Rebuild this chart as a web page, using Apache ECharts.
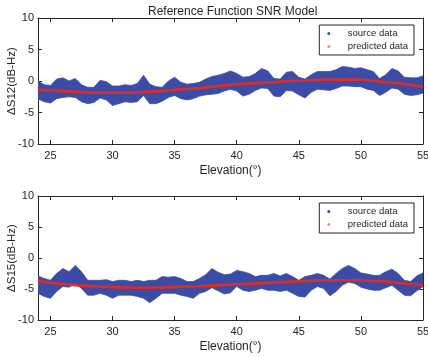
<!DOCTYPE html>
<html>
<head>
<meta charset="utf-8">
<script src="https://cdn.jsdelivr.net/npm/echarts@6/dist/echarts.min.js"></script>
<style>html,body{margin:0;padding:0;background:#fff}#c{width:428px;height:358px}</style>
</head>
<body>
<div id="c"></div>
<script>
// Elevation samples (degrees) for the source-data envelope
const elev = [24,24.5,25,25.5,26,26.5,27,27.5,28,28.5,29,29.5,30,30.5,31,31.5,32,32.5,33,33.5,34,34.5,35,35.5,36,36.5,37,37.5,38,38.5,39,39.5,40,40.5,41,41.5,42,42.5,43,43.5,44,44.5,45,45.5,46,46.5,47,47.5,48,48.5,49,49.5,50,50.5,51,51.5,52,52.5,53,53.5,54,54.5,55];
// ΔS12 source data: upper / lower envelope of the dense point cloud
const s12Upper = [0.0,-0.6,-0.7,0.3,0.5,0.0,0.4,-0.6,-1.0,-1.0,0.1,-0.1,-0.8,-0.8,-0.6,-0.7,-0.4,0.9,-0.5,-0.9,-1.0,0.0,0.6,-0.2,-0.5,-0.4,-0.2,0.3,0.7,0.9,1.2,1.6,1.2,0.6,0.7,1.2,2.0,1.6,0.4,0.3,1.4,1.5,0.6,0.3,1.0,1.5,1.5,1.5,1.8,2.3,2.2,2.0,2.1,1.8,1.5,0.4,1.0,2.0,1.6,0.6,0.5,0.5,0.8];
const s12Lower = [-2.8,-3.3,-3.5,-2.8,-2.6,-2.5,-2.6,-3.3,-3.6,-3.4,-2.7,-3.0,-3.9,-3.6,-3.3,-3.4,-3.3,-2.3,-3.6,-3.6,-3.2,-2.6,-2.3,-2.8,-3.0,-2.8,-2.4,-2.2,-2.1,-2.0,-1.6,-1.3,-1.6,-2.4,-2.1,-1.5,-1.1,-1.2,-2.4,-2.5,-1.5,-1.6,-2.2,-2.7,-1.8,-1.3,-1.4,-1.5,-1.2,-0.8,-0.8,-0.9,-0.9,-1.3,-1.5,-2.3,-1.8,-1.1,-1.3,-2.1,-2.3,-2.2,-1.9];
// ΔS15 source data envelope
const s15Upper = [-2.9,-3.3,-3.6,-2.5,-1.7,-2.2,-1.2,-2.2,-3.6,-3.6,-3.6,-3.5,-3.8,-3.6,-3.6,-3.8,-3.6,-3.8,-3.6,-3.6,-3.0,-3.1,-3.0,-3.3,-3.8,-3.8,-3.3,-2.7,-1.7,-2.3,-2.7,-2.6,-2.0,-2.2,-2.5,-3.0,-2.8,-2.8,-2.5,-2.9,-2.5,-3.0,-3.6,-3.0,-2.8,-2.5,-2.8,-3.4,-2.5,-1.7,-1.2,-1.7,-2.4,-2.6,-2.8,-2.8,-2.2,-1.8,-2.5,-3.6,-3.8,-2.9,-2.4];
const s15Lower = [-5.7,-6.2,-6.5,-5.4,-4.6,-4.7,-4.1,-4.9,-6.0,-6.0,-5.7,-6.0,-6.5,-6.0,-6.0,-6.0,-6.2,-6.5,-7.2,-6.5,-5.7,-5.7,-5.7,-6.0,-6.2,-6.5,-5.7,-5.4,-4.8,-5.3,-5.8,-5.6,-4.6,-5.2,-5.4,-5.2,-4.9,-5.2,-5.2,-5.4,-5.2,-5.7,-6.2,-6.3,-5.2,-4.6,-4.9,-6.1,-5.4,-4.4,-3.9,-4.1,-4.7,-5.0,-5.2,-5.2,-4.8,-4.4,-5.2,-6.0,-6.1,-5.3,-4.6];
// Predicted (model) curves
const predElev = [24,25,26,27,28,29,30,31,32,33,34,35,36,37,38,39,40,41,42,43,44,45,46,47,48,49,50,51,52,53,54,55];
const s12Pred = [-1.35,-1.5,-1.6,-1.7,-1.8,-1.85,-1.85,-1.85,-1.8,-1.7,-1.6,-1.4,-1.25,-1.1,-0.9,-0.7,-0.5,-0.4,-0.3,-0.2,0.0,0.05,0.15,0.2,0.2,0.22,0.2,0.05,-0.2,-0.35,-0.6,-0.95];
const s15Pred = [-3.7,-4.0,-4.2,-4.4,-4.5,-4.6,-4.7,-4.75,-4.8,-4.8,-4.75,-4.65,-4.6,-4.55,-4.45,-4.35,-4.25,-4.15,-4.05,-3.95,-3.85,-3.75,-3.65,-3.6,-3.6,-3.6,-3.6,-3.7,-3.8,-4.0,-4.2,-4.4];
// Tick labels
const xTicks = [25,30,35,40,45,50,55];
const yTicks = [-10,-5,0,5,10];
const panelNames = ['\u0394S12(dB-Hz)','\u0394S15(dB-Hz)'];
const xName = 'Elevation(\u00b0)';
const titleText = 'Reference Function SNR Model';

const FONT = '"Liberation Sans", Arial, Helvetica, sans-serif';
const AX = '#262626';
const BLUE = '#3a4ca6';
const RED = '#e62a1e';

// Whole band drawn as one polygon through the axis scales
function makeBandRenderer(up, lo){
  return function(params, api){
    if (params.dataIndex !== 0) return null;
    const pts = [];
    for (let i = 0; i < elev.length; i++) pts.push(api.coord([elev[i], up[i]]));
    for (let i = elev.length - 1; i >= 0; i--) pts.push(api.coord([elev[i], lo[i]]));
    return {type:'polygon', shape:{points:pts}, style:{fill:BLUE, stroke:BLUE, lineWidth:0.8}};
  };
}

const grids = [
  {left:38, right:5, top:18, height:126, outerBoundsMode:'none', containLabel:false},
  {left:38, right:5, top:196, height:124, outerBoundsMode:'none', containLabel:false}
];
const xAxes = [], yAxes = [];
grids.forEach((g, i) => {
  xAxes.push({gridIndex:i, type:'value', min:24, max:55, position:'bottom',
    name:xName, nameLocation:'middle', nameGap:21, nameMoveOverlap:false,
    nameTextStyle:{fontFamily:FONT, fontSize:12, color:AX},
    axisLine:{show:true, onZero:false, lineStyle:{color:AX, width:1}},
    axisTick:{show:true, inside:true, length:4, customValues:xTicks, lineStyle:{color:AX}},
    axisLabel:{show:true, customValues:xTicks, fontFamily:FONT, fontSize:11, color:AX, margin:6},
    splitLine:{show:false}});
  xAxes.push({gridIndex:i, type:'value', min:24, max:55, position:'top',
    axisLine:{show:true, onZero:false, lineStyle:{color:AX, width:1}},
    axisTick:{show:true, inside:true, length:4, customValues:xTicks, lineStyle:{color:AX}},
    axisLabel:{show:false}, splitLine:{show:false}});
  yAxes.push({gridIndex:i, type:'value', min:-10, max:10, interval:5, position:'left',
    name:panelNames[i], nameLocation:'middle', nameGap:20, nameMoveOverlap:false,
    nameTextStyle:{fontFamily:FONT, fontSize:11.5, color:AX},
    axisLine:{show:true, onZero:false, lineStyle:{color:AX, width:1}},
    axisTick:{show:true, inside:true, length:4, lineStyle:{color:AX}},
    axisLabel:{show:true, fontFamily:FONT, fontSize:11, color:AX, margin:4},
    splitLine:{show:false}});
  yAxes.push({gridIndex:i, type:'value', min:-10, max:10, interval:5, position:'right',
    axisLine:{show:true, onZero:false, lineStyle:{color:AX, width:1}},
    axisTick:{show:true, inside:true, length:4, lineStyle:{color:AX}},
    axisLabel:{show:false}, splitLine:{show:false}});
});

function legendFor(top){
  return {show:true, orient:'vertical', right:14, top:top,
    data:[{name:'source data', icon:'circle', itemStyle:{color:BLUE}},
          {name:'predicted data', icon:'circle', itemStyle:{color:'#f08a80'}}],
    itemWidth:28, itemHeight:3, itemGap:2,
    padding:[3,6,3,8], borderColor:AX, borderWidth:1, backgroundColor:'#fff',
    textStyle:{fontFamily:FONT, fontSize:9.5, color:AX, lineHeight:11},
    selectedMode:false};
}

const series = [];
[[s12Upper, s12Lower, s12Pred],[s15Upper, s15Lower, s15Pred]].forEach((s, i) => {
  series.push({type:'custom', name:'source data', xAxisIndex:2*i, yAxisIndex:2*i,
    renderItem:makeBandRenderer(s[0], s[1]), data:elev.map((x, k) => [x, s[0][k], s[1][k]]),
    encode:{x:0, y:[1,2]}, itemStyle:{color:BLUE}, clip:true, silent:true, z:2});
  series.push({type:'line', name:'predicted data', xAxisIndex:2*i, yAxisIndex:2*i,
    data:predElev.map((x, k) => [x, s[2][k]]), symbol:'none', smooth:false,
    lineStyle:{color:RED, width:2.6}, itemStyle:{color:RED}, z:3, silent:true});
});

const chart = echarts.init(document.getElementById('c'), null, {renderer:'canvas'});
chart.setOption({
  animation:false,
  backgroundColor:'#fff',
  title:{text:titleText, left:143, top:1, textStyle:{fontFamily:FONT, fontSize:12, fontWeight:'normal', color:AX}},
  grid:grids, xAxis:xAxes, yAxis:yAxes,
  legend:[legendFor(25), legendFor(203)],
  series:series
});
</script>
</body>
</html>
